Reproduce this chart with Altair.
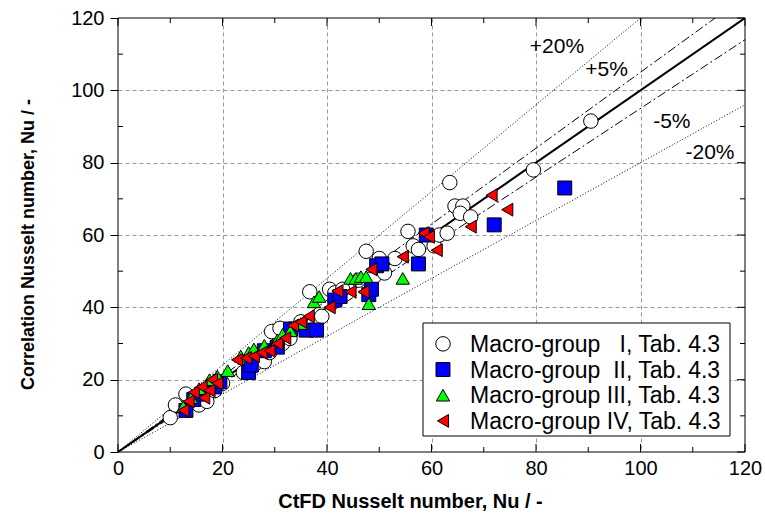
import altair as alt
import pandas as pd

# ---------------- data ----------------
groups = ["Macro-group\u00a0\u00a0\u00a0I, Tab. 4.3",
          "Macro-group\u00a0\u00a0II, Tab. 4.3",
          "Macro-group\u00a0III, Tab. 4.3",
          "Macro-group\u00a0IV, Tab. 4.3"]

g1_x = [10.0, 11.0, 13.0, 15.5, 17.0, 18.5, 20.0, 24.0, 26.0, 28.0, 29.0, 29.4, 31.0, 31.5, 32.9,
        33.0, 35.0, 36.7, 37.5, 39.0, 40.5, 41.5, 43.0, 46.0, 47.5, 49.0, 50.0, 51.0, 53.0, 55.5,
        56.5, 57.5, 60.5, 61.5, 63.0, 63.5, 64.5, 66.0, 65.5, 67.5, 79.5, 90.5]
g1_y = [9.5, 13.0, 16.0, 13.0, 14.0, 17.0, 19.0, 22.0, 24.0, 25.0, 27.5, 33.3, 34.2, 30.0, 31.4,
        34.0, 36.0, 44.3, 35.5, 37.5, 45.0, 44.0, 45.0, 47.5, 55.5, 48.5, 53.5, 49.5, 53.5, 61.0,
        57.0, 56.0, 57.0, 60.0, 60.5, 74.5, 68.0, 68.0, 66.0, 65.0, 78.0, 91.5]

g2_x = [13.0, 14.5, 16.0, 18.5, 19.5, 25.0, 25.5, 28.0, 30.5, 33.0, 36.0, 38.0, 41.5, 42.5,
        48.0, 48.5, 49.5, 50.5, 57.5, 59.0, 72.0, 85.5]
g2_y = [11.5, 14.5, 16.0, 18.0, 19.5, 22.0, 24.0, 28.0, 29.0, 34.0, 33.7, 33.7, 42.0, 43.0,
        43.5, 45.0, 51.5, 52.0, 52.0, 60.0, 62.8, 73.0]

g3_x = [12.5, 14.0, 15.5, 17.5, 19.0, 21.0, 23.5, 25.0, 26.0, 28.0, 30.5, 31.5, 33.0, 35.0,
        37.5, 38.5, 44.5, 45.5, 46.5, 47.5, 48.0, 54.5]
g3_y = [12.5, 15.0, 17.5, 20.0, 21.0, 22.5, 26.5, 27.5, 28.5, 29.5, 31.0, 32.5, 33.5, 35.5,
        41.5, 43.0, 48.0, 48.0, 48.5, 48.5, 41.0, 48.0]

g4_x = [12.5, 13.5, 14.5, 16.0, 16.5, 17.5, 18.0, 19.0, 22.8, 24.5, 26.0, 27.5, 29.0, 30.5,
        32.0, 33.5, 35.0, 36.5, 40.5, 42.0, 44.5, 47.0, 48.5, 54.5, 58.5, 59.5, 61.0, 67.5,
        71.5, 74.5]
g4_y = [11.5, 14.0, 16.5, 18.0, 15.0, 17.0, 20.0, 19.0, 25.5, 26.0, 26.5, 27.5, 28.0, 30.0,
        31.5, 35.0, 36.0, 37.5, 40.0, 44.5, 44.3, 44.3, 50.5, 54.0, 60.5, 59.5, 55.8, 62.3,
        71.0, 67.0]

group_fill = ["#ffffff", "#0000ff", "#00ff00", "#ff0000"]
group_shape = ["circle", "square", "triangle-up", "triangle-left"]
group_size = [210, 165, 300, 300]

# deviation bands: factor of the 1:1 line
band_factor = [1.0, 1.05, 0.95, 1.2, 0.8]
band_style = ["solid", "dashdot", "dashdot", "dotted", "dotted"]

# band labels (anchor in data units)
pct_text = ["+20%", "+5%", "-5%", "-20%"]
pct_x = [84.0, 93.5, 106.0, 113.3]
pct_y = [112.1, 105.6, 91.3, 82.6]

major_ticks = [0, 20, 40, 60, 80, 100, 120]
minor_ticks = [10, 30, 50, 70, 90, 110]

AX_MAX = 120

# ---------------- tables ----------------
rows = []
for gi, (gname, xs_, ys_) in enumerate(zip(groups, [g1_x, g2_x, g3_x, g4_x], [g1_y, g2_y, g3_y, g4_y])):
    for a, b in zip(xs_, ys_):
        rows.append({"x": a, "y": b, "g": gname, "gi": gi})
pts = pd.DataFrame(rows)

lrows = []
for i, (f, s) in enumerate(zip(band_factor, band_style)):
    lrows.append({"x": 0.0, "y": 0.0, "id": i, "s": s})
    lrows.append({"x": min(AX_MAX, AX_MAX / f), "y": min(AX_MAX, AX_MAX * f), "id": i, "s": s})
lines = pd.DataFrame(lrows)

pct = pd.DataFrame({"x": pct_x, "y": pct_y, "t": pct_text})
majdf = pd.DataFrame({"v": major_ticks})
mindf = pd.DataFrame({"v": minor_ticks})
legdf = pd.DataFrame({"g": groups, "gi": list(range(len(groups)))})

W, H = 627, 434
FONT = "Liberation Sans"

xs = alt.Scale(domain=[0, AX_MAX], nice=False, zero=False)
ys = alt.Scale(domain=[0, AX_MAX], nice=False, zero=False)
fill_scale = alt.Scale(domain=groups, range=group_fill)
shape_scale = alt.Scale(domain=groups, range=group_shape)
size_scale = alt.Scale(domain=groups, range=group_size)

grid_op = alt.expr("datum.value > 0 && datum.value < 120 ? 1 : 0")

x_axis = alt.Axis(values=major_ticks, ticks=False, domain=False, labelFontSize=20, labelFont=FONT,
                  labelColor="black", labelPadding=6, labelFlush=False,
                  grid=True, gridDash=[4, 3], gridColor="#999999", gridOpacity=grid_op,
                  title="CtFD Nusselt number, Nu  / -", titleFont=FONT, titleFontSize=20,
                  titleFontWeight="bold", titleColor="black", titleX=292, titleY=55,
                  titleBaseline="alphabetic")
y_axis = alt.Axis(values=major_ticks, ticks=True, tickSize=8, tickColor="black", domain=False,
                  labelFontSize=20, labelFont=FONT, labelColor="black", labelPadding=6,
                  grid=True, gridDash=[4, 3], gridColor="#999999", gridOpacity=grid_op,
                  title="Correlation Nusselt number, Nu / -", titleFont=FONT, titleFontSize=18,
                  titleFontWeight="bold", titleColor="black", titleX=-85, titleY=226,
                  titleBaseline="alphabetic")

base_lines = alt.Chart(lines)
solid = base_lines.transform_filter(alt.datum.s == "solid").mark_line(
    color="black", strokeWidth=2, clip=True).encode(
    x=alt.X("x:Q", scale=xs, axis=x_axis), y=alt.Y("y:Q", scale=ys, axis=y_axis), detail="id:N")
dashdot = base_lines.transform_filter(alt.datum.s == "dashdot").mark_line(
    color="black", strokeWidth=1, strokeDash=[9, 3, 2, 3], clip=True).encode(
    x=alt.X("x:Q", scale=xs), y=alt.Y("y:Q", scale=ys), detail="id:N")
dotted = base_lines.transform_filter(alt.datum.s == "dotted").mark_line(
    color="black", strokeWidth=1, strokeDash=[1, 2], clip=True).encode(
    x=alt.X("x:Q", scale=xs), y=alt.Y("y:Q", scale=ys), detail="id:N")

points = alt.Chart(pts).mark_point(filled=True, stroke="black", strokeWidth=1, opacity=1).encode(
    x=alt.X("x:Q", scale=xs),
    y=alt.Y("y:Q", scale=ys),
    color=alt.Color("g:N", scale=fill_scale, legend=None),
    shape=alt.Shape("g:N", scale=shape_scale, legend=None),
    size=alt.Size("g:N", scale=size_scale, legend=None),
    order=alt.Order("gi:Q"),
)

labels = alt.Chart(pct).mark_text(font=FONT, fontSize=21, color="black", align="center",
                                  baseline="middle").encode(
    x=alt.X("x:Q", scale=xs), y=alt.Y("y:Q", scale=ys), text="t:N")

# ---- legend (drawn as marks, rows positioned in data units of the y scale) ----
leg_box = alt.Chart(legdf.head(1)).mark_rect(fill="white", stroke="black", strokeWidth=1).encode(
    x=alt.value(305), x2=alt.value(612), y=alt.value(305), y2=alt.value(418))
leg_base = alt.Chart(legdf).transform_calculate(ly="29.9 - datum.gi * 7.1")
leg_sym = leg_base.mark_point(filled=True, stroke="black", strokeWidth=1, opacity=1).encode(
    x=alt.value(325),
    y=alt.Y("ly:Q", scale=ys),
    color=alt.Color("g:N", scale=fill_scale, legend=None),
    shape=alt.Shape("g:N", scale=shape_scale, legend=None),
    size=alt.Size("g:N", scale=alt.Scale(domain=groups, range=[190, 150, 260, 260]), legend=None),
)
leg_txt = leg_base.mark_text(font=FONT, fontSize=23, color="black", align="left",
                             baseline="middle", dy=1).encode(
    x=alt.value(352), y=alt.Y("ly:Q", scale=ys), text="g:N")

def tick_layers():
    out = []
    for df, L in [(majdf, 8), (mindf, 5)]:
        out.append(alt.Chart(df).mark_rule(color="black", strokeWidth=1).encode(
            x=alt.X("v:Q", scale=xs), y=alt.value(H), y2=alt.value(H - L)))
        out.append(alt.Chart(df).mark_rule(color="black", strokeWidth=1).encode(
            x=alt.X("v:Q", scale=xs), y=alt.value(0), y2=alt.value(L)))
        out.append(alt.Chart(df).mark_rule(color="black", strokeWidth=1).encode(
            y=alt.Y("v:Q", scale=ys), x=alt.value(W), x2=alt.value(W - L)))
    out.append(alt.Chart(mindf).mark_rule(color="black", strokeWidth=1).encode(
        y=alt.Y("v:Q", scale=ys), x=alt.value(0), x2=alt.value(5)))
    return out

frame = alt.Chart(majdf.head(1)).mark_rect(fill="transparent", stroke="black", strokeWidth=1).encode(
    x=alt.value(0), x2=alt.value(W), y=alt.value(0), y2=alt.value(H))

chart = alt.layer(solid, dashdot, dotted, points, labels, *tick_layers(),
                  leg_box, leg_sym, leg_txt, frame).properties(
    width=W, height=H,
    background="white",
    autosize=alt.AutoSizeParams(type="none"),
    padding={"left": 118, "top": 18, "right": 20, "bottom": 75},
).configure_view(stroke=None)

chart.save("out.html", embed_options={"renderer": "svg", "actions": False})
